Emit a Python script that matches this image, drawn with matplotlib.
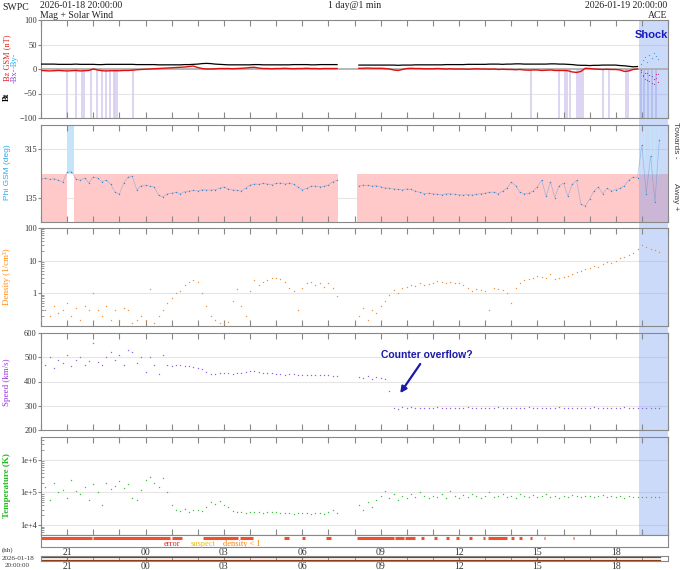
import numpy as np
import matplotlib.pyplot as plt
from matplotlib.patches import Rectangle
from matplotlib.transforms import blended_transform_factory

plt.rcParams['font.family'] = ['Liberation Serif', 'DejaVu Serif']

nan = np.nan

# 10 minute samples, hours since 2026-01-18 20:00
hours = np.arange(144) / 6.0

# Bt (nT)
bt = [10, 10, 10, 10, 9.5, 9.5,
      9.5, 9.5, 10, 9.5, 9.5, 9.5,
      9.5, 9, 9, 9.5, 9.5, 9.5,
      9.5, 9.5, 9.5, 9.5, 9, 9,
      9, 9, 9, 8.5, 8.5, 8.5,
      8.5, 8.5, 8.5, 9, 9, 9.5,
      10, 11, 11.5, 11, 10, 9.5,
      9, 8.5, 8.5, 8.5, 8.5, 8.5,
      8.5, 9, 9, 8.5, 8.5, 8.5,
      8.5, 8.5, 8.5, 8.5, 9, 9,
      9, 9, 8.5, 8.5, 9, 9,
      9, 9, 9, nan, nan, nan,
      nan, 8, 8, 8, 8, 8,
      8, 8, 8, 8, 7.5, 8,
      8, 8, 8.5, 8.5, 8.5, 8.5,
      8.5, 8.5, 8.5, 9, 9, 9,
      9, 9, 9.5, 9.5, 9.5, 9.5,
      9.5, 10, 10, 10, 9.5, 10,
      10, 10.5, 10.5, 10, 10, 10,
      10, 10, 10, 10.5, 10.5, 10,
      10, 9.5, 9, 8, 7.5, 7.5,
      7, 7.5, 7.5, 8, 8, 8,
      8, 7, 6.5, 5.5, 4.5, 5,
      nan, nan, nan, nan, nan, nan]

# Bz GSM (nT)
bz = [-3, -3.5, -4, -3.5, -3, -3.5,
      -4, -3.5, -3, -4, -3.5, -3,
      0, -2, -3.5, -4, -3.5, -3.5,
      -3.5, -3, -3, -2.5, -1.5, -1,
      -0.5, 0, 0.5, 1, 1.5, 2,
      2.5, 3, 3.5, 4, 5, 6,
      3, 1, 0, 0, 0.5, 1,
      1, 1, 0.5, 1, 1.5, 2,
      3, 3.5, 2, 1, 1, 0.5,
      1, 1, 1.5, 1, 0.5, 1,
      1, 1.5, 1, 1, 0.5, 1,
      1, 1, 1, nan, nan, nan,
      nan, 1.5, 1.5, 2, 1.5, 1.5,
      1.5, 1, 0, -2, -3, -1,
      1, 1.5, 1, 1, 0.5, 0.5,
      0.5, 1, 0.5, 0, 0.5, 0,
      0, 0, -0.5, 0, 0.5, 0,
      0, -0.5, 0, -1, -0.5, -1,
      -1, -1.5, -1, -2, -2.5, -2,
      -2, -3, -2.5, -2, -3, -3,
      -3, -3.5, -6, -7, -5, 1.5,
      1, 0, -0.5, -1, -0.5, -1,
      -1, -2, -5, -4, -1, 0,
      nan, nan, nan, nan, nan, nan]

# after the shock the field is only scattered points
shock_t = [22.95, 23.03, 23.12, 23.2, 23.28, 23.37, 23.45, 23.53, 23.62]
shock_by = [10, 18, 24, 15, 28, 22, 33, 26, 20]
shock_bx = [-6, -12, -20, -9, -25, -15, -30, -18, -10]
shock_bz = [-3, -15, -8, -22, -12, -28, -20, -10, -26]

# times flagged in light purple under the Bz trace
south_t = [1.0, 1.34, 1.57, 1.65, 1.92, 2.15, 2.34, 2.49, 2.64, 2.78, 2.84, 2.9,
           3.52, 18.77, 19.81, 20.04, 20.15, 20.23, 20.5, 20.58, 20.66, 20.74,
           21.53, 21.76, 22.38, 22.45, 22.95, 23.1, 23.25, 23.4, 23.55]

# Phi GSM (deg)
phi = [205, 207, 203, 206, 200, 193,
       230, 232, 205, 200, 208, 190,
       212, 208, 195, 200, 185, 156,
       148, 190, 212, 214, 164, 180,
       182, 178, 175, 145, 138, 150,
       152, 155, 150, 158, 160, 162,
       160, 165, 164, 163, 165, 170,
       175, 168, 164, 162, 160, 170,
       182, 186, 185, 188, 186, 184,
       188, 190, 186, 190, 185, 175,
       164, 170, 178, 178, 176, 178,
       182, 195, 200, nan, nan, nan,
       nan, 180, 182, 181, 178, 180,
       176, 172, 170, 168, 166, 165,
       168, 166, 160, 155, 150, 152,
       150, 148, 147, 149, 150, 148,
       146, 145, 147, 145, 148, 150,
       152, 155, 156, 150, 160, 170,
       193, 180, 155, 150, 152, 160,
       175, 200, 140, 195, 135, 180,
       190, 140, 185, 200, 110, 105,
       130, 160, 175, 150, 170, 160,
       165, 170, 180, 200, 212, 210,
       330, 150, 290, 120, 350, nan]

# Density (1/cm3)
density = [0.15, 0.3, 0.2, 0.4, 0.25, 0.3,
           0.5, 0.2, 0.35, 0.15, 0.4, 0.3,
           1.0, 0.3, 0.2, 0.4, 0.15, 0.3,
           0.15, 0.35, 0.3, 0.12, 0.15, 0.2,
           0.15, 1.4, 0.12, 0.2, 0.3, 0.5,
           0.7, 1.0, 1.2, 1.8, 2.2, 2.5,
           2.2, 1.0, 0.4, 0.2, 0.15, 0.12,
           0.12, 0.13, 0.6, 1.4, 0.4, 0.2,
           1.2, 2.5, 1.8, 2.2, 2.6, 3.0,
           3.0, 2.8, 2.2, 1.5, 1.2, 0.3,
           1.5, 2.0, 2.2, 1.8, 2.0, 1.6,
           2.0, 1.5, 0.8, nan, nan, nan,
           nan, 0.2, 0.35, 0.15, 0.3, 0.25,
           0.4, 0.6, 0.9, 1.3, 1.0, 1.5,
           1.6, 1.8, 1.7, 2.0, 1.8, 1.9,
           2.1, 2.4, 2.2, 2.0, 2.3, 2.1,
           2.0, 1.8, 1.5, 1.2, 1.4, 1.3,
           1.2, 0.3, 1.5, 1.4, 1.3, 1.0,
           0.5, 1.5, 2.0, 2.5, 2.8, 3.0,
           3.5, 3.2, 3.0, 3.8, 2.8, 3.0,
           3.2, 3.5, 4.0, 4.5, 5.0, 5.5,
           6.0, 7.0, 6.5, 8.0, 9.0, 8.5,
           10, 12, 13, 15, 17, 22,
           30, 26, 23, 21, 19, nan]

# Speed (km/s)
speed = [480, 470, 500, 455, 490, 475,
         510, 465, 490, 500, 470, 485,
         560, 480, 470, 500, 520, 490,
         510, 470, 530, 520, 475, 500,
         440, 500, 470, 430, 510, 470,
         465, 470, 468, 465, 462, 458,
         455, 450, 440, 432, 430, 435,
         433, 435, 432, 436, 434, 440,
         445, 443, 438, 435, 436, 434,
         432, 430, 428, 432, 430, 428,
         427, 428, 426, 425, 428, 426,
         425, 424, 422, nan, nan, nan,
         nan, 420, 415, 422, 410, 418,
         415, 412, 360, 292, 288, 294,
         290, 293, 291, 289, 292, 290,
         291, 294, 290, 292, 289, 291,
         292, 290, 293, 291, 290, 292,
         290, 292, 291, 294, 290, 291,
         292, 289, 291, 290, 293, 291,
         291, 290, 292, 290, 291, 293,
         292, 291, 290, 292, 291, 290,
         291, 293, 290, 292, 291, 292,
         292, 291, 293, 292, 291, 292,
         292, 292, 291, 292, 291, nan]

# Temperature (K)
temp = [8e4, 1.5e5, 6e4, 2e5, 1e5, 1.2e5,
        7e4, 2.5e5, 1.1e5, 9e4, 1.5e5, 6e4,
        1.8e5, 1.0e5, 4e4, 2e5, 1.3e5, 1.6e5,
        2.2e5, 1.4e5, 1.8e5, 7e4, 6e4, 1.2e5,
        2.5e5, 3e5, 2e5, 1.5e5, 2.8e5, 1e5,
        4e4, 3e4, 2.8e4, 3.2e4, 2.6e4, 3e4,
        3e4, 2.8e4, 3.5e4, 5e4, 4.5e4, 5.5e4,
        4e4, 3.5e4, 2.7e4, 2.5e4, 2.6e4, 2.4e4,
        2.5e4, 2.6e4, 2.5e4, 2.4e4, 2.5e4, 2.6e4,
        2.5e4, 2.4e4, 2.3e4, 2.4e4, 2.2e4, 2.3e4,
        2.3e4, 2.4e4, 2.2e4, 2.3e4, 2.4e4, 2.2e4,
        2.5e4, 3e4, 2.3e4, nan, nan, nan,
        nan, 4e4, 3e4, 5e4, 3.5e4, 6e4,
        8e4, 1.1e5, 7e4, 9e4, 6e4, 8e4,
        7e4, 9e4, 7.5e4, 1e5, 8e4, 7e4,
        8e4, 7.5e4, 9e4, 7e4, 1.1e5, 8e4,
        7e4, 8.5e4, 7.5e4, 9e4, 8e4, 7e4,
        8e4, 1e5, 7.5e4, 8e4, 9e4, 7.5e4,
        8e4, 7e4, 9e4, 8e4, 7.5e4, 8.5e4,
        7.5e4, 8e4, 9e4, 7.5e4, 8e4, 7e4,
        8e4, 7.5e4, 8.5e4, 8e4, 7.5e4, 8e4,
        8e4, 7.5e4, 8e4, 8.5e4, 7.5e4, 8e4,
        7.5e4, 8e4, 7e4, 8e4, 7.5e4, 7.5e4,
        7.5e4, 7.5e4, 7.5e4, 7.5e4, 7.5e4, nan]

# data quality flags (start, end hours)
flag_error = [(0, 1.95), (2.0, 4.95), (5.02, 5.4), (6.2, 7.55), (7.6, 8.1),
              (9.3, 9.5), (10.0, 10.1), (10.9, 11.1), (12.1, 13.5),
              (13.55, 13.9), (13.95, 14.3), (14.55, 14.65), (15.05, 15.15),
              (15.5, 15.6), (15.9, 16.0), (16.4, 16.5), (16.9, 17.0),
              (17.1, 17.85), (18.0, 18.1), (18.3, 18.4), (18.7, 18.8),
              (19.25, 19.3), (20.35, 20.4)]

shock_start = 22.9
hour_labels = ['21', '00', '03', '06', '09', '12', '15', '18']
hour_label_pos = [1, 4, 7, 10, 13, 16, 19, 22]

fig = plt.figure(figsize=(6.8, 5.7), dpi=100)


def panel(top, bottom):
    return fig.add_axes([41 / 680, 1 - bottom / 570, 627 / 680, (bottom - top) / 570])


def style(ax):
    ax.set_xlim(0, 24)
    ax.set_xticks(range(25))
    ax.tick_params(axis='x', direction='in', top=True, bottom=True, length=4,
                   color='#888888', labelbottom=False)
    ax.tick_params(axis='y', direction='out', length=2, labelsize=6,
                   color='#888888', labelcolor='#333333', pad=1)
    ax.tick_params(axis='y', which='minor', direction='in', length=2, color='#888888')
    for s in ax.spines.values():
        s.set_color('#888888')
        s.set_linewidth(0.8)
    ax.axvspan(shock_start, 24, color='#6f95ee', alpha=0.35, lw=0, zorder=0.5)


def dots(ax, y, color, trace=False):
    if trace:
        ax.plot(hours, y, color=color, lw=0.5, alpha=0.4, zorder=3)
    ax.plot(hours, y, '.', color=color, ms=2.0, mew=0, zorder=3)


# Bt / Bz
ax1 = panel(20, 118)
style(ax1)
ax1.set_ylim(-100, 100)
ax1.set_yticks([100, 50, 0, -50, -100])
for v in [50, -50]:
    ax1.axhline(v, color='#e6e6e6', lw=0.8, zorder=0)
ax1.axhline(0, color='#aaaaaa', lw=1.2, zorder=0.6)
ax1.vlines(south_t, -100, 0, color='#d8cdf0', lw=1.2, zorder=0.4)
ax1.plot(hours, bt, color='black', lw=0.9, zorder=3)
ax1.plot(hours, bz, color='#e01010', lw=1.0, zorder=3)
ax1.plot(shock_t, shock_by, '.', color='#3aa0e0', ms=1.8, mew=0, zorder=3)
ax1.plot(shock_t, shock_bx, '.', color='#9050d0', ms=1.8, mew=0, zorder=3)
ax1.plot(shock_t, shock_bz, '.', color='#e03050', ms=1.8, mew=0, zorder=3)
ax1.text(23.35, 70, 'Shock', color='#1a1ac0', fontsize=8, fontweight='bold',
         family='Liberation Sans', ha='center', va='center', zorder=5)

# Phi
ax2 = panel(125, 222)
style(ax2)
ax2.set_ylim(45, 405)
ax2.set_yticks([315, 135])
for v in [315, 135]:
    ax2.axhline(v, color='#e6e6e6', lw=0.8, zorder=0)
for a, b in [(0, 1.0), (1.25, 11.35), (12.1, 24)]:
    ax2.fill_between([a, b], 45, 225, color='#ffc9c9', lw=0, zorder=0.2)
ax2.fill_between([1.0, 1.25], 225, 405, color='#c4e4fa', lw=0, zorder=0.2)
ax2.vlines([22.95, 23.1, 23.3, 23.45, 23.6], 225, 405, color='#c4e4fa', lw=1, zorder=0.6)
dots(ax2, phi, '#3a88d0', trace=True)

# Density
ax3 = panel(228, 326)
style(ax3)
ax3.set_yscale('log')
ax3.set_ylim(0.1, 100)
ax3.set_yticks([1, 10, 100])
ax3.set_yticklabels(['1', '10', '100'])
for v in [1, 10]:
    ax3.axhline(v, color='#e6e6e6', lw=0.8, zorder=0)
dots(ax3, density, '#f0903a')

# Speed
ax4 = panel(333, 430)
style(ax4)
ax4.set_ylim(200, 600)
ax4.set_yticks([600, 500, 400, 300, 200])
for v in [500, 400, 300]:
    ax4.axhline(v, color='#e6e6e6', lw=0.8, zorder=0)
dots(ax4, speed, '#9a5ee0')
ax4.annotate('Counter overflow?', xy=(13.75, 352), xytext=(14.75, 509),
             color='#1a1aa8', fontsize=7.5, fontweight='bold', family='Liberation Sans',
             ha='center', va='center',
             arrowprops=dict(arrowstyle='-|>', color='#1a1aa8', lw=1.6,
                             mutation_scale=9, shrinkA=1, shrinkB=0))

# Temperature
ax5 = panel(437, 535)
style(ax5)
ax5.set_yscale('log')
ax5.set_ylim(5e3, 5e6)
ax5.set_yticks([1e4, 1e5, 1e6])
ax5.set_yticklabels(['1e+4', '1e+5', '1e+6'])
for v in [1e4, 1e5, 1e6]:
    ax5.axhline(v, color='#e6e6e6', lw=0.8, zorder=0)
dots(ax5, temp, '#3cc03c')

# shock band continues through the gaps between panels
trans = blended_transform_factory(ax1.transData, fig.transFigure)
fig.add_artist(Rectangle((shock_start, 1 - 535 / 570), 24 - shock_start, 515 / 570,
                         transform=trans, color='#6f95ee', alpha=0.35, lw=0, zorder=-1))

# status bar
ax6 = panel(535, 547)
ax6.set_xlim(0, 24)
ax6.set_ylim(0, 1)
ax6.set_yticks([])
ax6.set_xticks(hour_label_pos)
ax6.set_xticklabels(hour_labels)
ax6.tick_params(axis='x', length=0, labelsize=7, pad=1, labelcolor='#333333')
for s in ax6.spines.values():
    s.set_color('#888888')
    s.set_linewidth(0.8)
for a, b in flag_error:
    ax6.plot([a, b], [0.72, 0.72], color='#f0502a', lw=2.2, solid_capstyle='butt')
ax6.text(5.0, 0.22, 'error', color='#e02020', fontsize=6, ha='center', va='center')
ax6.text(6.2, 0.22, 'suspect', color='#e8c000', fontsize=6, ha='center', va='center')
ax6.text(7.7, 0.22, 'density < 1', color='#ff8000', fontsize=6, ha='center', va='center')

# time strip
ax7 = panel(556, 561)
ax7.set_xlim(0, 24)
ax7.set_ylim(0, 1)
ax7.set_yticks([])
ax7.set_xticks(range(25), minor=True)
ax7.set_xticks(hour_label_pos)
ax7.set_xticklabels(hour_labels)
ax7.tick_params(axis='x', which='both', direction='in', length=2, top=True,
                color='#888888', labelsize=7, pad=1, labelcolor='#333333')
for s in ax7.spines.values():
    s.set_color('#888888')
    s.set_linewidth(0.8)
ax7.plot([0, 23.7], [0.72, 0.72], color='#8b3a1a', lw=0.9)
ax7.plot([0, 23.7], [0.28, 0.28], color='#8b3a1a', lw=0.9)

# header
def ft(x, y, s, **kw):
    fig.text(x / 680, 1 - y / 570, s, **kw)


ft(2, 7, 'SWPC', fontsize=7, va='center', color='#222222')
ft(40, 6, '2026-01-18 20:00:00', fontsize=7, va='center', color='#222222')
ft(40, 15, 'Mag + Solar Wind', fontsize=7, va='center', color='#222222')
ft(355, 6, '1 day@1 min', fontsize=7, va='center', ha='center', color='#222222')
ft(667, 6, '2026-01-19 20:00:00', fontsize=7, va='center', ha='right', color='#222222')
ft(667, 15, 'ACE', fontsize=7, va='center', ha='right', color='#222222')

# axis labels
ft(7, 58, 'Bz GSM (nT)', fontsize=6, rotation=90, ha='center', va='center', color='#e02020')
ft(7, 97, 'Bt', fontsize=6, rotation=90, ha='center', va='center', color='black',
   fontweight='bold')
ft(15, 60, '-By-', fontsize=6, rotation=90, ha='center', va='center', color='#20b0f0')
ft(15, 75, '-Bx-', fontsize=6, rotation=90, ha='center', va='center', color='#9040e0')
ft(8, 172, 'Phi GSM (deg)', fontsize=6, rotation=90, ha='center', va='center',
   color='#33aaee', family='Liberation Sans')
ft(7, 277, 'Density (1/cm³)', fontsize=6.5, rotation=90, ha='center', va='center',
   color='#ff8c1a')
ft(7, 382, 'Speed (km/s)', fontsize=6.5, rotation=90, ha='center', va='center',
   color='#9933dd')
ft(7, 486, 'Temperature (K)', fontsize=6.5, rotation=90, ha='center', va='center',
   color='#22bb22', fontweight='bold')
ft(675, 140, 'Towards -', fontsize=6, rotation=-90, ha='center', va='center',
   color='#444444', family='Liberation Sans')
ft(675, 197, 'Away +', fontsize=6, rotation=-90, ha='center', va='center',
   color='#444444', family='Liberation Sans')
ft(2, 550, '(hh)', fontsize=5, va='center', color='#333333')
ft(2, 558, '2026-01-18', fontsize=5, va='center', color='#333333')
ft(5, 565.5, '20:00:00', fontsize=5, va='center', color='#333333')

plt.savefig('out.png', dpi=100)
